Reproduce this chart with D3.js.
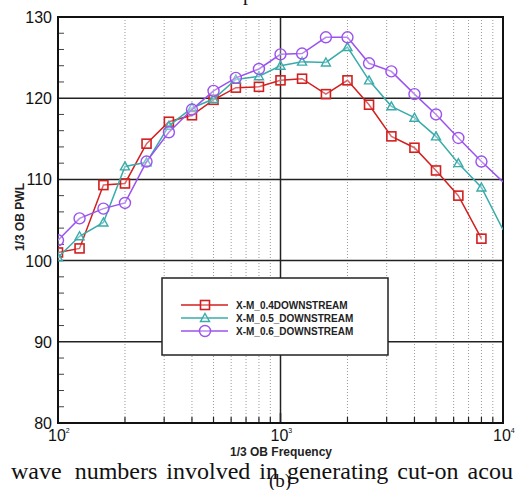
<!DOCTYPE html>
<html>
<head>
<meta charset="utf-8">
<title>1/3 OB PWL</title>
<script src="https://d3js.org/d3.v7.min.js"></script>
<style>
  body { margin: 0; background: #fff; }
  svg { display: block; }
</style>
</head>
<body>
<svg class="chart" width="516" height="490"></svg>
<script>
// 1/3 octave band centre frequencies
const freqs = [100, 125, 160, 200, 250, 315, 400, 500, 630, 800, 1000,
               1250, 1600, 2000, 2500, 3150, 4000, 5000, 6300, 8000, 10000];

// PWL values per series (null = no data)
const m04 = [101.0, 101.5, 109.3, 109.5, 114.4, 117.1, 117.9, 119.8, 121.3, 121.4, 122.2,
             122.4, 120.5, 122.2, 119.2, 115.3, 113.9, 111.1, 108.0, 102.7, null];
const m05 = [100.4, 103.0, 104.7, 111.6, 112.1, 116.6, 118.8, 119.9, 122.3, 122.7, 124.0,
             124.5, 124.4, 126.3, 122.2, 119.0, 117.6, 115.3, 112.0, 109.0, 103.8];
const m06 = [102.5, 105.2, 106.4, 107.1, 112.2, 115.8, 118.6, 120.9, 122.5, 123.6, 125.4,
             125.5, 127.5, 127.5, 124.3, 123.3, 120.5, 118.0, 115.1, 112.2, 109.7];

const seriesNames = ["X-M_0.4DOWNSTREAM", "X-M_0.5_DOWNSTREAM", "X-M_0.6_DOWNSTREAM"];
const seriesColors = ["#d21f1f", "#3aabab", "#9b52ee"];
const seriesShapes = ["square", "triangle", "circle"];

const yTicks = [80, 90, 100, 110, 120, 130];
const xTicks = [100, 1000, 10000];

// words of the page text under the figure
const captionWords = ["wave", "numbers", "involved", "in", "generating", "cut-on", "acou"];

const svg = d3.select("svg.chart");

const x = d3.scaleLog().domain([100, 10000]).range([58, 503]);
const y = d3.scaleLinear().domain([80, 130]).range([423, 17]);

const labelFont = "'Liberation Sans', Arial, sans-serif";
const serifFont = "'Liberation Serif', 'Times New Roman', serif";

// minor dotted grid (vertical)
const minors = [];
[100, 1000].forEach(function(dec) {
    for (let k = 2; k <= 9; k++) minors.push(dec * k);
});
svg.append("g")
    .selectAll("line")
    .data(minors)
    .enter().append("line")
        .attr("x1", d => x(d)).attr("x2", d => x(d))
        .attr("y1", y(130)).attr("y2", y(80))
        .attr("stroke", "#9a9a9a")
        .attr("stroke-width", 1)
        .attr("stroke-dasharray", "1,2");

// minor tick marks on x (bottom, inside)
svg.append("g")
    .selectAll("line")
    .data(minors)
    .enter().append("line")
        .attr("x1", d => x(d)).attr("x2", d => x(d))
        .attr("y1", y(80)).attr("y2", y(80) - 6)
        .attr("stroke", "#222")
        .attr("stroke-width", 1.2);

// major tick at 10^3 bottom
svg.append("line")
    .attr("x1", x(1000)).attr("x2", x(1000))
    .attr("y1", y(80)).attr("y2", y(80) - 10)
    .attr("stroke", "#111").attr("stroke-width", 1.5);

// minor ticks on y (left, inside)
const yMinors = d3.range(82, 130, 2).filter(d => d % 10 !== 0);
svg.append("g")
    .selectAll("line")
    .data(yMinors)
    .enter().append("line")
        .attr("x1", x(100)).attr("x2", x(100) + 6)
        .attr("y1", d => y(d)).attr("y2", d => y(d))
        .attr("stroke", "#444")
        .attr("stroke-width", 1);

// major grid lines
svg.append("g")
    .selectAll("line")
    .data([90, 100, 110, 120])
    .enter().append("line")
        .attr("x1", x(100)).attr("x2", x(10000))
        .attr("y1", d => y(d)).attr("y2", d => y(d))
        .attr("stroke", "#222")
        .attr("stroke-width", 1.5);
svg.append("line")
    .attr("x1", x(1000)).attr("x2", x(1000))
    .attr("y1", y(130)).attr("y2", y(80))
    .attr("stroke", "#222").attr("stroke-width", 1.5);

// frame
svg.append("rect")
    .attr("x", x(100)).attr("y", y(130))
    .attr("width", x(10000) - x(100))
    .attr("height", y(80) - y(130))
    .attr("fill", "none")
    .attr("stroke", "#111")
    .attr("stroke-width", 2);

// y tick labels
svg.append("g")
    .selectAll("text")
    .data(yTicks)
    .enter().append("text")
        .attr("x", 52)
        .attr("y", d => y(d) + 6)
        .attr("text-anchor", "end")
        .style("font-family", labelFont)
        .style("font-size", "16px")
        .attr("fill", "#111")
        .text(d => d);

// x tick labels 10^n
const xl = svg.append("g")
    .selectAll("text")
    .data(xTicks)
    .enter().append("text")
        .attr("x", d => x(d) - 10)
        .attr("y", 441)
        .style("font-family", labelFont)
        .style("font-size", "16px")
        .attr("fill", "#111");
xl.append("tspan").text("10");
xl.append("tspan")
    .attr("dy", -8)
    .style("font-size", "7px")
    .text(d => Math.round(Math.log10(d)));

// axis titles
svg.append("text")
    .attr("x", 281).attr("y", 456)
    .attr("text-anchor", "middle")
    .style("font-family", labelFont)
    .style("font-size", "12px")
    .style("font-weight", "bold")
    .attr("fill", "#222")
    .text("1/3 OB Frequency");

svg.append("text")
    .attr("transform", "translate(24,217) rotate(-90)")
    .attr("text-anchor", "middle")
    .style("font-family", labelFont)
    .style("font-size", "12px")
    .style("font-weight", "bold")
    .attr("fill", "#222")
    .text("1/3 OB PWL");

// clip to plot area
svg.append("clipPath").attr("id", "plotclip")
    .append("rect")
    .attr("x", x(100)).attr("y", y(130))
    .attr("width", x(10000) - x(100))
    .attr("height", y(80) - y(130));

function drawMarker(g, shape, color, px, py) {
    if (shape === "square") {
        g.append("rect")
            .attr("x", px - 4.5).attr("y", py - 4.5)
            .attr("width", 9).attr("height", 9)
            .attr("fill", "#fff").attr("fill-opacity", 0.3)
            .attr("stroke", color).attr("stroke-width", 1.6);
    } else if (shape === "triangle") {
        g.append("path")
            .attr("d", "M" + px + "," + (py - 4.5) + "L" + (px + 4.5) + "," + (py + 3.5) + "L" + (px - 4.5) + "," + (py + 3.5) + "Z")
            .attr("fill", "#fff").attr("fill-opacity", 0.3)
            .attr("stroke", color).attr("stroke-width", 1.4);
    } else {
        g.append("circle")
            .attr("cx", px).attr("cy", py).attr("r", 5.5)
            .attr("fill", "#fff").attr("fill-opacity", 0.3)
            .attr("stroke", color).attr("stroke-width", 1.4);
    }
}

const allSeries = [m04, m05, m06];
const line = d3.line()
    .defined(d => d.v !== null)
    .x(d => x(d.f))
    .y(d => y(d.v));

allSeries.forEach(function(vals, i) {
    const pts = freqs.map((f, j) => ({f: f, v: vals[j]}));
    const g = svg.append("g").attr("clip-path", "url(#plotclip)");
    g.append("path")
        .datum(pts)
        .attr("fill", "none")
        .attr("stroke", seriesColors[i])
        .attr("stroke-width", 1.5)
        .attr("d", line);
    pts.filter(p => p.v !== null && p.f < 10000).forEach(function(p) {
        drawMarker(g, seriesShapes[i], seriesColors[i], x(p.f), y(p.v));
    });
});

// legend
const leg = svg.append("g");
leg.append("rect")
    .attr("x", 162).attr("y", 278)
    .attr("width", 226).attr("height", 77)
    .attr("fill", "#fff")
    .attr("stroke", "#222")
    .attr("stroke-width", 1.5);
seriesNames.forEach(function(name, i) {
    const ly = 305 + i * 13;
    leg.append("line")
        .attr("x1", 181).attr("x2", 228)
        .attr("y1", ly).attr("y2", ly)
        .attr("stroke", seriesColors[i]).attr("stroke-width", 1.5);
    drawMarker(leg, seriesShapes[i], seriesColors[i], 205, ly);
    leg.append("text")
        .attr("x", 236).attr("y", ly + 4)
        .style("font-family", labelFont)
        .style("font-size", "10px")
        .style("font-weight", "bold")
        .attr("fill", "#222")
        .text(name);
});

// surrounding page text (cropped figure): descender of a letter above
svg.append("text")
    .attr("x", 243).attr("y", 0)
    .style("font-family", serifFont)
    .style("font-size", "20px")
    .attr("fill", "#111")
    .text("p");

// caption line under the figure
const cap = svg.append("text")
    .attr("x", 11).attr("y", 479)
    .style("font-family", serifFont)
    .style("font-size", "24px")
    .style("word-spacing", "3px")
    .attr("fill", "#111");
cap.selectAll("tspan")
    .data(captionWords)
    .enter().append("tspan")
        .attr("dx", (d, i) => i === 1 ? 4 : 0)
        .text((d, i) => (i > 0 ? " " : "") + d);

svg.append("text")
    .attr("x", 269).attr("y", 487)
    .style("font-family", serifFont)
    .style("font-size", "19px")
    .attr("fill", "#111")
    .text("(b)");
</script>
</body>
</html>
